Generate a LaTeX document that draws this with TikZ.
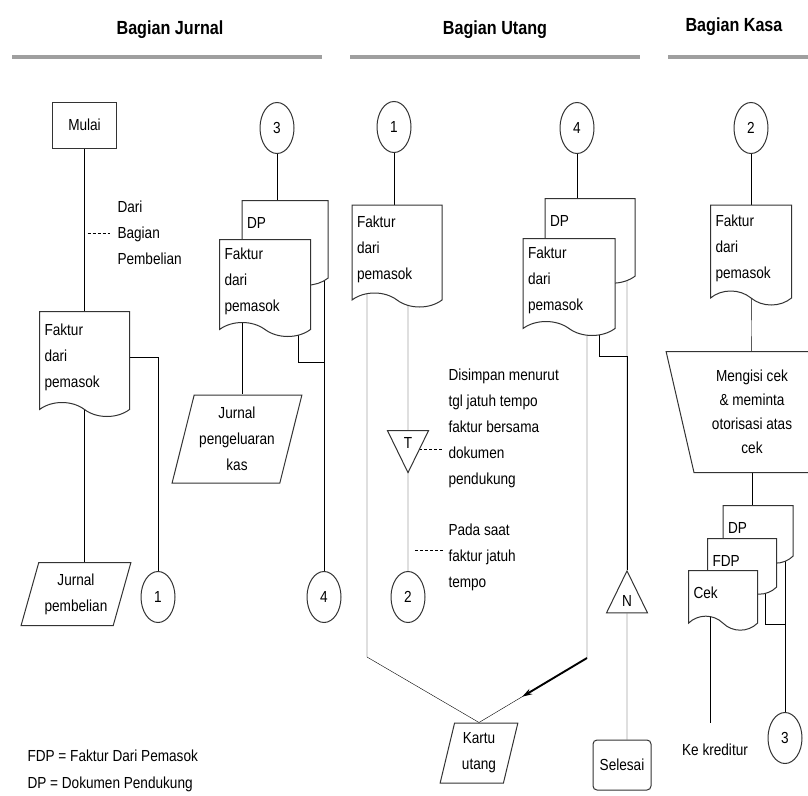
\documentclass[tikz,border=0pt]{standalone}
\usepackage{fontspec}
\setmainfont{Liberation Sans}[FakeStretch=0.85]
\usetikzlibrary{arrows.meta, positioning, shapes.geometric, shapes.symbols, calc, backgrounds}

\begin{document}
\begin{tikzpicture}[
        x=1pt, y=-1pt, line width=1pt, draw=black!80,
        font=\fontsize{16}{26}\selectfont,
        head/.style={font=\fontsize{19}{22}\selectfont\bfseries},
        lane/.style={line width=4pt, draw=gray!75},
        term/.style={rectangle, draw, fill=white, minimum width=64, minimum height=46},
        con/.style={ellipse, draw, fill=white, minimum width=34, minimum height=51, inner sep=0pt},
        doc/.style={tape, tape bend top=none, tape bend bottom=out and in, tape bend height=14pt,
            draw, fill=white, align=left, inner xsep=5pt, text width=#1},
        doctop/.style={anchor=north, text height=25pt, text depth=#1},
        io/.style={trapezium, trapezium stretches, trapezium left angle=#1, draw, fill=white, align=center, inner sep=0pt},
        manual/.style={trapezium, trapezium left angle=77, trapezium right angle=77, shape border rotate=180,
            draw, fill=white, align=center, font=\fontsize{16}{24}\selectfont},
        tri/.style={isosceles triangle, isosceles triangle stretches, draw, fill=white, inner sep=0pt,
            minimum width=41, minimum height=42, shape border rotate=#1},
        note/.style={align=left, inner sep=3pt},
        noteline/.style={dash pattern=on 3pt off 2pt, line width=0.9pt}
    ]
    \useasboundingbox (0,0) rectangle (808,795);

    % Headings
    \node[head] (hj) at (170,30) {Bagian Jurnal};
    \node[head] (hu) at (495,30) {Bagian Utang};
    \node[head] (hk) at (734,27) {Bagian Kasa};
    \draw[lane] (12,57) -- (322,57);
    \draw[lane] (350,57) -- (640,57);
    \draw[lane] (668,57) -- (808,57);

    % Bagian Jurnal
    \node[term] (mulai) at (84.5,125) {Mulai};
    \node[note, anchor=west] (ndari) at (114,233) {Dari\\Bagian\\Pembelian};
    \node[doc=80, minimum height=105] (fj1) at (84.5,357) {Faktur\\dari\\pemasok};
    \node[io=70, trapezium right angle=110, minimum width=110, minimum height=63] (jp) at (76,594) {Jurnal\\pembelian};
    \node[con] (c1) at (158,597) {1};

    \node[con] (c3) at (277,128) {3};
    \node[doc=76, doctop=39] (dpj) at (285,200) {DP};
    \node[doc=81, minimum height=97] (fjj) at (265,281) {Faktur\\dari\\pemasok};
    \node[io=73, trapezium right angle=107, minimum width=130, minimum height=88] (jpk) at (237,439) {Jurnal\\pengeluaran\\kas};
    \node[con] (c4) at (324,597) {4};

    % Bagian Utang
    \node[con] (u1) at (394,127) {1};
    \node[doc=80, minimum height=102] (fu1) at (397,249) {Faktur\\dari\\pemasok};
    \node[tri=270] (tt) at (408,443) {T};
    \node[note, anchor=west] (nsimpan) at (445,428) {Disimpan menurut\\tgl jatuh tempo\\faktur bersama\\dokumen\\pendukung};
    \node[con] (u2) at (408,597) {2};
    \node[note, anchor=west] (nsaat) at (445,557) {Pada saat\\faktur jatuh\\tempo};
    \node[io=76, trapezium right angle=104, minimum width=78, minimum height=60] (ku) at (479,753) {Kartu\\utang};

    \node[con] (u4) at (577,128) {4};
    \node[doc=80, doctop=39] (dpu) at (590,198) {DP};
    \node[doc=82, minimum height=97] (fuu) at (569,280) {Faktur\\dari\\pemasok};
    \node[tri=90] (tn) at (627,601) {N};
    \node[term, rounded corners=4pt, minimum width=58, minimum height=50] (sel) at (622,765) {Selesai};

    % Bagian Kasa
    \node[con] (k2) at (751,128) {2};
    \node[doc=71, minimum height=100] (fk) at (751,248) {Faktur\\dari\\pemasok};
    \node[manual, minimum width=141, minimum height=121] (mc) at (752,412) {Mengisi cek\\\& meminta\\otorisasi atas\\cek};
    \node[doc=60, doctop=12] (dpk) at (758,505) {DP};
    \node[doc=59, doctop=10] (fdpk) at (742,538) {FDP};
    \node[doc=59, doctop=14] (cek) at (723,570) {Cek};
    \node[con] (k3) at (785,738) {3};
    \node[note] (kk) at (715,750) {Ke kreditur};
    \coordinate (kend) at (710,723);

    % Keterangan
    \node[note, anchor=west, font=\fontsize{16}{27}\selectfont] (ket) at (24,771) {FDP = Faktur Dari Pemasok\\DP = Dokumen Pendukung};

    % Connectors
    \begin{scope}[on background layer, line width=1.6pt]
        \draw (mulai.center) -- (fj1.center);
        \draw[noteline, shorten <=3pt, shorten >=4pt] (mulai |- ndari.west) -- (ndari.west);
        \draw (fj1.center) -- (fj1.center |- jp.north);
        \draw (fj1.east) -| (c1);
        \draw (c3) -- (c3 |- dpj.north);
        \draw ([xshift=-23pt]fjj.center) -- ([xshift=-23pt]fjj.center |- jpk.north);
        \draw (c4 |- dpj.center) -- (c4);
        \draw ([xshift=33pt]fjj.south) -- ++(0,39) -| (c4);

        \draw (u1) -- (u1 |- fu1.north);
        \coordinate (vl) at (367,657);
        \coordinate (vr) at (587,658);
        \draw (fu1.center -| vl) -- (vl) -- (ku.north);
        \draw (fu1.center -| tt) -- (tt) -- (u2);
        \draw[noteline, shorten <=11pt, shorten >=2pt] ([yshift=-6pt]tt.center) -- ([yshift=-6pt]tt.center -| nsimpan.west);
        \draw[noteline, shorten <=7pt, shorten >=2pt] ([yshift=7pt]nsaat.west -| u2) -- ([yshift=7pt]nsaat.west);
        \draw (fuu.center -| vr) -- (vr) -- (ku.north);
        \draw[-{Stealth[length=10pt,width=6pt]}, line width=1.9pt] (vr) -- ($(vr)!0.6!(ku.north)$);
        \draw (u4) -- (u4 |- dpu.north);
        \draw (tn |- dpu.center) -- (tn);
        \draw ([xshift=30pt]fuu.south) -- ++(0,34) -| (tn);
        \draw (sel.north -| tn) -- (tn);

        \draw (k2) -- (k2 |- fk.north);
        \draw (fk.center) -- (mc.center);
        \draw (mc.center) -- (mc.center |- dpk.north);
        \draw (k3 |- dpk.center) -- (k3);
        \draw ([xshift=23pt]fdpk.south) -- ++(0,44) -| (k3);
        \draw (cek.center -| kend) -- (kend);
    \end{scope}
\end{tikzpicture}
\end{document}
